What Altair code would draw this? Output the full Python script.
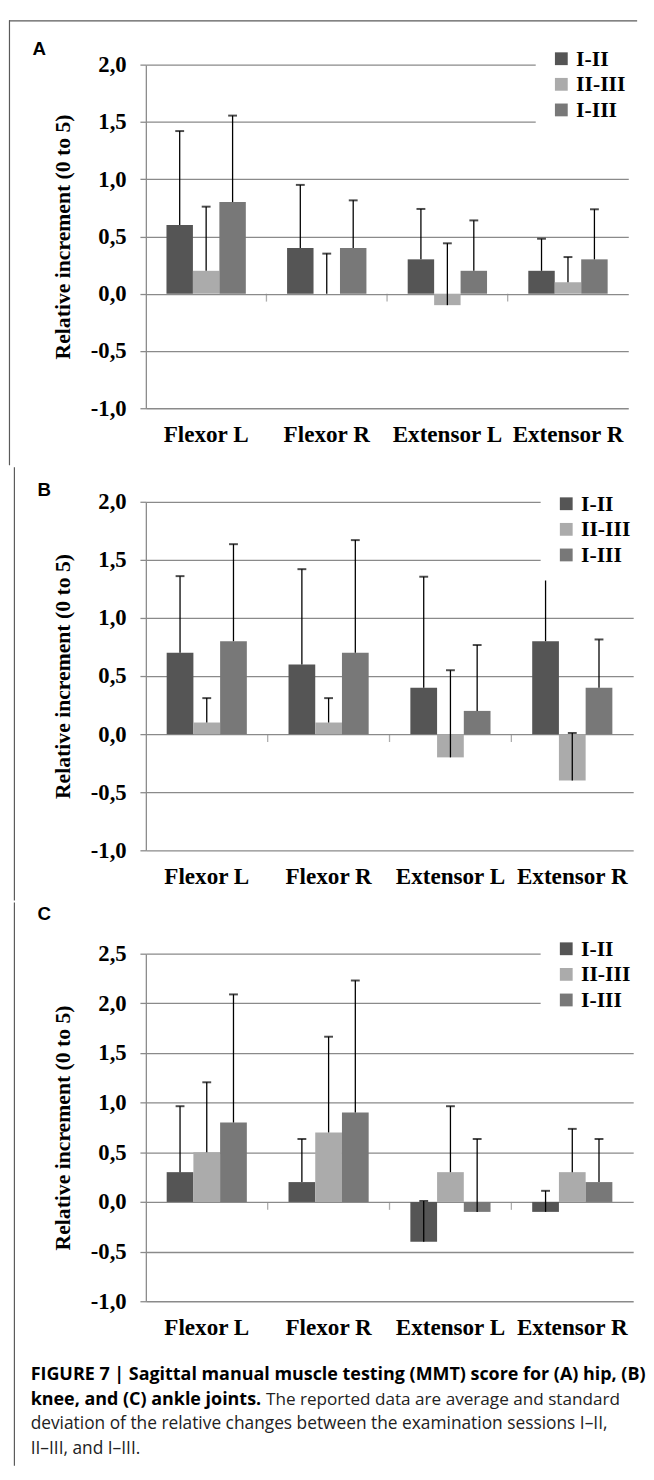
import altair as alt
import pandas as pd

categories = ["Flexor L", "Flexor R", "Extensor L", "Extensor R"]
series = ["I-II", "II-III", "I-III"]
colors = ["#555555", "#ababab", "#787878"]

# Panel A (hip): means and standard deviations per series, in category order
hip_mean_12 = [0.6, 0.4, 0.3, 0.2]
hip_mean_23 = [0.2, 0.0, -0.1, 0.1]
hip_mean_13 = [0.8, 0.4, 0.2, 0.3]
hip_sd_12 = [0.82, 0.55, 0.44, 0.28]
hip_sd_23 = [0.56, 0.35, 0.54, 0.22]
hip_sd_13 = [0.755, 0.415, 0.44, 0.437]

# Panel B (knee)
knee_mean_12 = [0.7, 0.6, 0.4, 0.8]
knee_mean_23 = [0.1, 0.1, -0.2, -0.4]
knee_mean_13 = [0.8, 0.7, 0.2, 0.4]
knee_sd_12 = [0.66, 0.82, 0.955, 0.60]
knee_sd_23 = [0.21, 0.21, 0.75, 0.41]
knee_sd_13 = [0.835, 0.97, 0.567, 0.415]

# Panel C (ankle)
ankle_mean_12 = [0.3, 0.2, -0.4, -0.1]
ankle_mean_23 = [0.5, 0.7, 0.3, 0.3]
ankle_mean_13 = [0.8, 0.9, -0.1, 0.2]
ankle_sd_12 = [0.664, 0.434, 0.41, 0.212]
ankle_sd_23 = [0.705, 0.964, 0.664, 0.436]
ankle_sd_13 = [1.29, 1.33, 0.734, 0.434]

ticks_ab = [-1.0, -0.5, 0.0, 0.5, 1.0, 1.5, 2.0]
ticks_c = [-1.0, -0.5, 0.0, 0.5, 1.0, 1.5, 2.0, 2.5]

y_title = "Relative increment (0 to 5)"
caption_1 = "FIGURE 7 | Sagittal manual muscle testing (MMT) score for (A) hip, (B)"
caption_2b = "knee, and (C) ankle joints."
caption_2r = "The reported data are average and standard"
caption_3 = "deviation of the relative changes between the examination sessions I–II,"
caption_4 = "II–III, and I–III."

SERIF = "Liberation Serif"
SANS = "Liberation Sans"
CAP = "Open Sans"
GRID = "#8a8a8a"
FRAME = "#5a5a5a"
RIGHT = 637  # page x of plot right edge


def make_df(means, sds):
    rows = []
    for s, m, d in zip(series, means, sds):
        for c, mv, dv in zip(categories, m, d):
            rows.append({"cat": c, "series": s, "mean": mv, "top": mv + dv})
    return pd.DataFrame(rows)


def one():
    return pd.DataFrame({"k": [0]})


def text_layer(txt, x, y, font, size, weight, align="left", color="black"):
    return alt.Chart(pd.DataFrame({"t": [txt]})).mark_text(
        font=font, fontSize=size, fontWeight=weight, align=align, baseline="middle", color=color
    ).encode(text="t:N", x=alt.value(x), y=alt.value(y))


def panel(letter, letter_y, df, ymin, ymax, ticks, x0, top, height, bound_top, bound_bottom,
          legend_y, top_line=False, caption=False):
    width = RIGHT - x0
    xenc = alt.X("cat:N", sort=categories,
                 scale=alt.Scale(paddingInner=0, paddingOuter=0),
                 axis=alt.Axis(title=None, labelAngle=0, domain=False, ticks=False, grid=False,
                               labelFont=SERIF, labelFontSize=23.5, labelFontWeight="bold",
                               labelColor="black", labelPadding=15))
    xoff = alt.XOffset("series:N", sort=series,
                       scale=alt.Scale(domain=series, paddingInner=0, paddingOuter=0.78))
    yscale = alt.Scale(domain=[ymin, ymax], nice=False)
    yaxis = alt.Axis(values=ticks, title=y_title,
                     labelExpr="(datum.value < 0 ? '-' : '') + replace(format(abs(datum.value), '.1f'), '.', ',')",
                     labelFont=SERIF, labelFontSize=23, labelFontWeight="bold", labelColor="black",
                     labelPadding=14, tickSize=6, tickColor=GRID, tickWidth=1.3,
                     domain=True, domainColor=GRID, domainWidth=1.3,
                     grid=True, gridColor=GRID, gridWidth=1.3,
                     titleFont=SERIF, titleFontSize=22, titleFontWeight="bold", titleColor="black",
                     titlePadding=16)
    base = alt.Chart(df)
    bars = base.mark_bar().encode(
        x=xenc, xOffset=xoff,
        y=alt.Y("mean:Q", scale=yscale, axis=yaxis),
        y2=alt.datum(0),
        color=alt.Color("series:N", sort=series,
                        scale=alt.Scale(domain=series, range=colors),
                        legend=alt.Legend(title=None, orient="none", legendX=558 - 15 - x0,
                                          legendY=legend_y,
                                          fillColor="white", padding=15, symbolType="square",
                                          symbolSize=169, symbolStrokeWidth=0, symbolOpacity=1,
                                          labelFont=SERIF, labelFontSize=22, labelFontWeight="bold",
                                          labelColor="black", rowPadding=4, labelOffset=4)),
    )
    err = base.mark_rule(color="black", strokeWidth=1.3).encode(
        x=alt.X("cat:N", sort=categories), xOffset=alt.XOffset("series:N", sort=series),
        y=alt.Y("mean:Q"), y2="top:Q")
    caps = base.mark_tick(color="black", size=9, thickness=2, orient="horizontal").encode(
        x=alt.X("cat:N", sort=categories), xOffset=alt.XOffset("series:N", sort=series),
        y=alt.Y("top:Q"))
    bticks = alt.Chart(pd.DataFrame({"cat": categories[1:]})).mark_tick(
        color=GRID, size=8, thickness=1.3, orient="vertical", yOffset=4
    ).encode(x=alt.X("cat:N", sort=categories, bandPosition=0), y=alt.datum(0))
    left = alt.Chart(one()).mark_rule(color=FRAME, strokeWidth=1.2).encode(
        x=alt.value(8.5 - x0), y=alt.value(bound_top - top), y2=alt.value(bound_bottom - top))
    layers = [bars, err, caps, bticks, left,
              text_layer(letter, 32 - x0, letter_y - top, SANS, 19, "bold")]
    if top_line:
        layers.append(alt.Chart(one()).mark_rule(color=FRAME, strokeWidth=1.2).encode(
            x=alt.value(8 - x0), x2=alt.value(646 - x0), y=alt.value(bound_top - top + 0.5)))
    if caption:
        cx = 25 - x0
        layers += [
            text_layer(caption_1, cx, 1380 - top, CAP, 18.2, "bold"),
            text_layer(caption_2b, cx, 1405 - top, CAP, 18.2, "bold"),
            text_layer(caption_2r, 264 - x0, 1405 - top, CAP, 17.4, "normal", color="#222222"),
            text_layer(caption_3, cx, 1430 - top, CAP, 17.6, "normal", color="#222222"),
            text_layer(caption_4, cx, 1455 - top, CAP, 17.6, "normal", color="#222222"),
        ]
    return alt.layer(*layers).properties(width=width, height=height)


pA = panel("A", 37, make_df([hip_mean_12, hip_mean_23, hip_mean_13],
                             [hip_sd_12, hip_sd_23, hip_sd_13]),
           -1.0, 2.0, ticks_ab, 147, 53, 349, 8, 460, -32, top_line=True)
pB = panel("B", 483, make_df([knee_mean_12, knee_mean_23, knee_mean_13],
                              [knee_sd_12, knee_sd_23, knee_sd_13]),
           -1.0, 2.0, ticks_ab, 142, 495, 354, 460, 900, -24)
pC = panel("C", 912, make_df([ankle_mean_12, ankle_mean_23, ankle_mean_13],
                              [ankle_sd_12, ankle_sd_23, ankle_sd_13]),
           -1.0, 2.5, ticks_c, 142, 952, 353, 900, 1472, -31, caption=True)

chart = alt.vconcat(pA, pB, pC, spacing=0).resolve_scale(
    color="independent", xOffset="independent", x="independent", y="independent"
).resolve_legend(color="independent").properties(
    padding={"left": 0, "top": 0, "right": 0, "bottom": 0}, background="white"
).configure_view(stroke="transparent", strokeWidth=0)

chart.save("out.html", embed_options={"renderer": "svg", "actions": False})
